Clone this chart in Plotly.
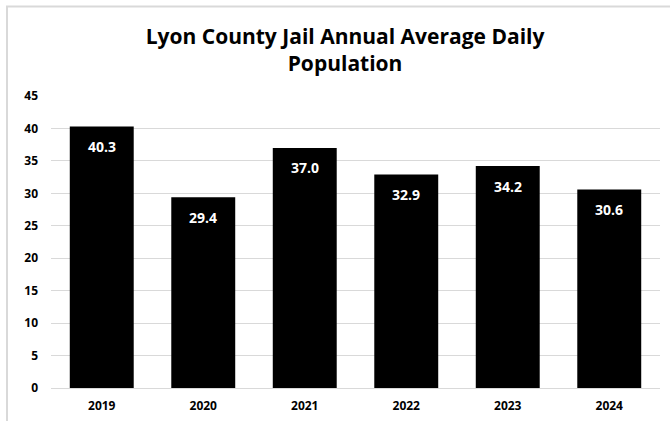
import plotly.graph_objects as go

years = ["2019", "2020", "2021", "2022", "2023", "2024"]
adp = [40.3, 29.4, 37.0, 32.9, 34.2, 30.6]
y_ticks = [0, 5, 10, 15, 20, 25, 30, 35, 40, 45]

W, H = 670, 421
L, R, T, B = 51, 10, 96, 33
pw, ph = W - L - R, H - T - B
FONT = "Open Sans"

fig = go.Figure(go.Bar(
    x=years, y=adp,
    marker=dict(color="#000000", line=dict(width=0)),
    width=0.63,
    hoverinfo="x+y",
))

# value labels inside bar tops (category index used as x position)
for i, v in enumerate(adp):
    fig.add_annotation(
        x=i, y=v, text=f"{v:.1f}", showarrow=False,
        yanchor="middle", yshift=-20,
        font=dict(color="white", size=14, family=FONT, weight="bold"),
    )

fig.update_layout(
    width=W, height=H,
    margin=dict(l=L, r=R, t=T, b=B, autoexpand=False),
    paper_bgcolor="white", plot_bgcolor="white",
    showlegend=False,
    title=dict(
        text="Lyon County Jail Annual Average Daily<br>Population",
        x=0.515, xanchor="center", y=1 - 44 / H, yanchor="top",
        font=dict(family=FONT, size=21, color="#000000", weight="bold"),
        automargin=False,
    ),
    font=dict(family=FONT, color="#000000"),
)
fig.update_xaxes(
    type="category", categoryorder="array", categoryarray=years,
    range=[-0.5, len(years) - 0.5],
    showgrid=False, showline=False, ticks="", automargin=False,
    tickfont=dict(size=12, family=FONT, weight="bold"), ticklabelstandoff=9,
)
fig.update_yaxes(
    range=[0, 45], tickvals=y_ticks, showgrid=True, automargin=False,
    gridcolor="#d9d9d9", gridwidth=1, zeroline=True, zerolinecolor="#d9d9d9",
    zerolinewidth=1, showline=False, ticks="",
    tickfont=dict(size=12, family=FONT, weight="bold"), ticklabelstandoff=12,
)
# chart border
fig.add_shape(
    type="rect", xref="paper", yref="paper",
    x0=(7 - L) / pw, x1=(W + 5 - L) / pw,
    y0=-(H + 5 - T - ph) / ph, y1=(H - 6.5 - B) / ph,
    line=dict(color="#d9d9d9", width=2), fillcolor="rgba(0,0,0,0)", layer="below",
)

fig.write_html("out.html", config={"displayModeBar": False},
               post_script="document.body.style.margin='0';")
